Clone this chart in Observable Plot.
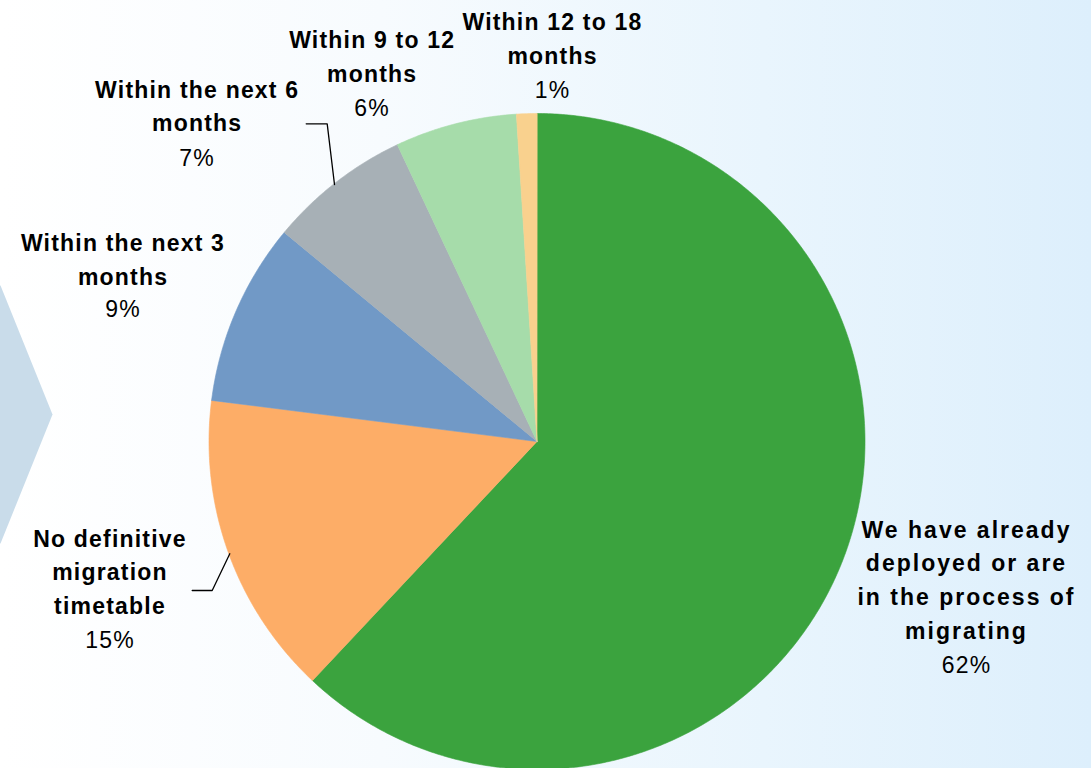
<!DOCTYPE html>
<html><head><meta charset="utf-8">
<script src="https://cdn.jsdelivr.net/npm/d3@7"></script>
<script src="https://cdn.jsdelivr.net/npm/@observablehq/plot@0.6"></script>
<style>body{margin:0;background:#fff;} #chart svg{display:block;}</style>
</head><body><div id="chart"></div>
<script>
// ---- data ----
const categories = [
  "We have already deployed or are in the process of migrating",
  "No definitive migration timetable",
  "Within the next 3 months",
  "Within the next 6 months",
  "Within 9 to 12 months",
  "Within 12 to 18 months"
];
const labelText = [
  "We have already\ndeployed or are\nin the process of\nmigrating",
  "No definitive\nmigration\ntimetable",
  "Within the next 3\nmonths",
  "Within the next 6\nmonths",
  "Within 9 to 12\nmonths",
  "Within 12 to 18\nmonths"
];
const values = [62, 15, 9, 7, 6, 1];
const colors = ["#3ba33e", "#fdad67", "#7199c6", "#a7b0b6", "#a6dcaa", "#f9d18e"];

// ---- layout (pixels) ----
const W = 1091, H = 768, cx = 536.5, cy = 441, R = 328;
const ux = px => (px - cx) / R, uy = py => (cy - py) / R;
const labelX    = [966, 109.5, 122.5, 196.7, 371.7, 552];
const nameBase  = [638, 613.3, 284, 130.7, 81, 63];
const pctBase   = [672.5, 647.3, 316.5, 165, 115, 97];
const leaders = [
  [[305.7, 123.3], [326.7, 123.3], [334, 184]],
  [[191.7, 590], [211.7, 590], [229.3, 553.3]]
];
const chevron = [[-6, 285], [0, 285], [52, 414], [0, 543], [-6, 543]];

// ---- slices from values ----
const arcs = d3.pie().sort(null).value(d => d)(values);
const slicePts = [];
arcs.forEach((a, i) => {
  slicePts.push({k: categories[i], x: 0, y: 0});
  const n = Math.max(2, Math.ceil((a.endAngle - a.startAngle) / (Math.PI / 360)));
  for (let j = 0; j <= n; j++) {
    const t = a.startAngle + (a.endAngle - a.startAngle) * j / n;
    slicePts.push({k: categories[i], x: Math.sin(t), y: Math.cos(t)});
  }
});

const labels = categories.map((c, i) => ({
  k: c, name: labelText[i], pct: values[i] + "%",
  x: ux(labelX[i]), yName: uy(nameBase[i]), yPct: uy(pctBase[i])
}));
const leaderPts = leaders.flatMap((l, i) => l.map(([px, py]) => ({g: i, x: ux(px), y: uy(py)})));
const chevPts = chevron.map(([px, py]) => ({x: ux(px), y: uy(py)}));

const font = "Liberation Sans, Arial, Helvetica, sans-serif";
const textOpts = {fontFamily: font, fontSize: 23, lineHeight: 1.46, textAnchor: "middle", lineAnchor: "bottom", fill: "#000"};

const plot = Plot.plot({
  width: W, height: H,
  margin: 0,
  x: {domain: [ux(0), ux(W)], axis: null},
  y: {domain: [uy(H), uy(0)], axis: null},
  color: {domain: categories, range: colors},
  style: {background: "linear-gradient(90deg, #ffffff 0%, #f7fbfe 35%, #e9f5fd 70%, #ddeffc 100%)", fontFamily: font, letterSpacing: "1.2px", overflow: "hidden"},
  marks: [
    Plot.line(chevPts, {x: "x", y: "y", fill: "#c9dcea", stroke: "none", curve: "linear-closed"}),
    Plot.line(slicePts, {x: "x", y: "y", z: "k", fill: "k", stroke: "k", strokeWidth: 0.6, curve: "linear-closed"}),
    Plot.line(leaderPts, {x: "x", y: "y", z: "g", stroke: "#000", strokeWidth: 1.3}),
    Plot.text(labels, {...textOpts, x: "x", y: "yName", text: "name", fontWeight: "bold"}),
    Plot.text(labels, {...textOpts, x: "x", y: "yPct", text: "pct", fontWeight: "normal"})
  ]
});
plot.querySelectorAll("text").forEach(t => {
  if (t.textContent.startsWith("We have")) t.setAttribute("style", "letter-spacing: 2px");
});
document.getElementById("chart").appendChild(plot);
</script>
</body></html>
